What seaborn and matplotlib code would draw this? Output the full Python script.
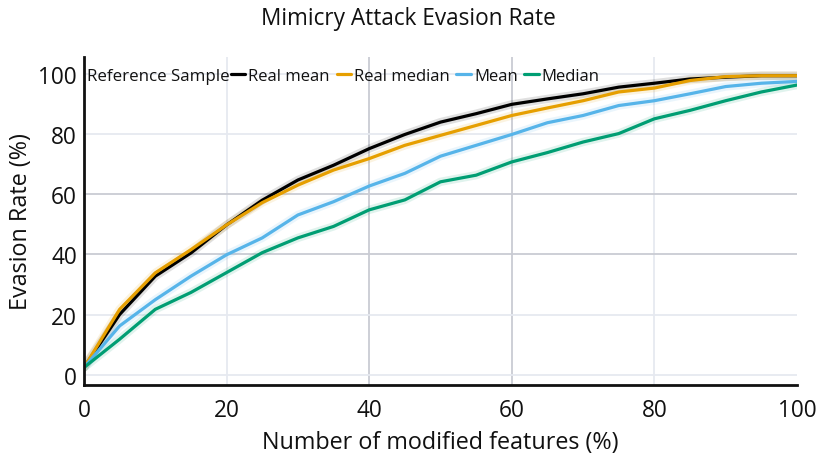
import matplotlib
matplotlib.use("Agg")
import matplotlib.pyplot as plt
import seaborn as sns
import pandas as pd

# Share of modified features (%)
features_pct = [0, 5, 10, 15, 20, 25, 30, 35, 40, 45, 50,
                55, 60, 65, 70, 75, 80, 85, 90, 95, 100]

# Evasion rate (%) for each curve
real_mean = [2.5, 20.1, 32.8, 40.5, 49.8, 58.0, 64.7, 69.6, 75.1, 79.8, 83.9,
             86.7, 89.8, 91.6, 93.3, 95.5, 96.8, 98.2, 98.8, 99.3, 99.3]
real_median = [2.5, 21.8, 33.9, 41.6, 49.8, 57.2, 63.0, 68.0, 71.8, 76.2, 79.5,
               82.8, 86.1, 88.6, 91.0, 93.9, 95.2, 97.7, 99.0, 99.3, 99.3]
mean = [2.5, 16.3, 25.0, 32.8, 39.9, 45.5, 53.1, 57.5, 62.7, 66.9, 72.6,
        76.2, 79.8, 83.7, 86.1, 89.4, 91.0, 93.3, 95.7, 96.8, 97.4]
median = [2.5, 11.9, 21.8, 27.4, 34.0, 40.6, 45.5, 49.3, 54.8, 58.1, 64.1,
          66.3, 70.7, 73.8, 77.3, 80.1, 85.0, 87.8, 91.0, 93.9, 96.2]

series_names = ["Real mean", "Real median", "Mean", "Median"]
series_values = [real_mean, real_median, mean, median]
colors = ["#000000", "#E69F00", "#56B4E9", "#009E73"]

df = pd.concat(
    [pd.DataFrame({"features": features_pct, "rate": vals, "series": name})
     for name, vals in zip(series_names, series_values)],
    ignore_index=True,
)

sns.set_theme(style="white")
plt.rcParams["font.family"] = ["Open Sans", "DejaVu Sans"]

fig = plt.figure(figsize=(8.17, 4.56), dpi=100)
ax = fig.add_axes([0.1028, 0.1535, 0.8727, 0.7193])

# light and darker grid lines
light = "#E6E9F0"
dark = "#C9CBD3"
for v in [20, 80]:
    ax.axvline(v, color=light, lw=1.3, zorder=0)
for v in [40, 60]:
    ax.axvline(v, color=dark, lw=1.3, zorder=0)
for v in [0, 20, 80, 100]:
    ax.axhline(v, color=light, lw=1.3, zorder=0)
for v in [40, 60]:
    ax.axhline(v, color=dark, lw=1.3, zorder=0)

# soft halo behind each curve
for name, col in zip(series_names, colors):
    sub = df[df["series"] == name]
    ax.plot(sub["features"], sub["rate"], color=col, lw=6, alpha=0.12,
            solid_capstyle="round", zorder=1)

sns.lineplot(data=df, x="features", y="rate", hue="series",
             hue_order=series_names, palette=colors, linewidth=2.3,
             ax=ax, legend=False, zorder=2)

ax.set_xlim(0, 100)
ax.set_ylim(-3.3, 105.5)
ax.set_xticks([0, 20, 40, 60, 80, 100])
ax.set_yticks([0, 20, 40, 60, 80, 100])
ax.tick_params(axis="both", length=0, labelsize=16.3, colors="#111111")
ax.tick_params(axis="x", pad=9)
ax.tick_params(axis="y", pad=5)
ax.set_xlabel("Number of modified features (%)", fontsize=16.8, color="#111111", labelpad=6)
ax.set_ylabel("Evasion Rate (%)", fontsize=16.8, color="#111111", labelpad=4)

for side in ["top", "right"]:
    ax.spines[side].set_visible(False)
for side in ["left", "bottom"]:
    ax.spines[side].set_color("#111111")
    ax.spines[side].set_linewidth(2)

fig.suptitle("Mimicry Attack Evasion Rate", fontsize=16.3, color="#111111", y=0.985)

# legend with its title placed inline
ax.text(0.004, 0.9425, "Reference Sample", transform=ax.transAxes,
        fontsize=12.2, color="#111111", va="center", ha="left", zorder=5)
handles = [plt.Line2D([], [], color=c, lw=2.3) for c in colors]
leg = ax.legend(handles, series_names, ncol=4, frameon=False,
                loc="center left", bbox_to_anchor=(0.206, 0.9425),
                fontsize=12.0, handlelength=0.85, handletextpad=0.2,
                columnspacing=0.4, borderaxespad=0, borderpad=0)
for t in leg.get_texts():
    t.set_color("#111111")

fig.savefig("out.png", dpi=100)
